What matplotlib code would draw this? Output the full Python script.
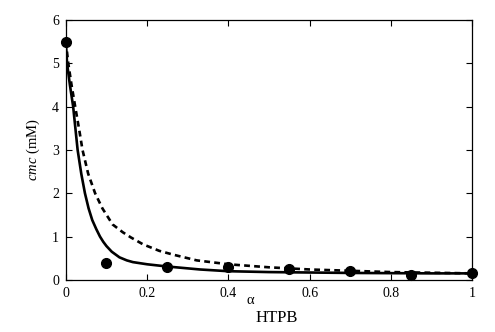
import numpy as np
import matplotlib
matplotlib.use("Agg")
import matplotlib.pyplot as plt

plt.rcParams["font.family"] = ["Liberation Serif", "DejaVu Serif"]
plt.rcParams["mathtext.fontset"] = "custom"
plt.rcParams["mathtext.rm"] = "Liberation Serif"
plt.rcParams["mathtext.it"] = "Liberation Serif:italic"

# experimental cmc values
alpha_exp = [0.0, 0.10, 0.25, 0.40, 0.55, 0.70, 0.85, 1.0]
cmc_exp = [5.5, 0.40, 0.29, 0.29, 0.25, 0.21, 0.12, 0.15]

# solid curve
alpha_solid = [0.0, 0.003, 0.010, 0.018, 0.029, 0.038, 0.047, 0.056, 0.065,
               0.075, 0.084, 0.092, 0.10, 0.113, 0.132, 0.15, 0.165, 0.20,
               0.248, 0.33, 0.40, 0.50, 0.60, 0.70, 0.80, 0.90, 1.0]
cmc_solid = [5.5, 5.0, 4.5, 4.0, 3.0, 2.45, 2.0, 1.65, 1.38,
             1.17, 1.0, 0.88, 0.78, 0.65, 0.52, 0.45, 0.41, 0.36,
             0.31, 0.24, 0.20, 0.18, 0.17, 0.16, 0.155, 0.15, 0.15]

# dashed curve
alpha_dash = [0.0, 0.006, 0.014, 0.023, 0.033, 0.041, 0.055, 0.072, 0.09,
              0.115, 0.14, 0.16, 0.19, 0.23, 0.265, 0.322, 0.40, 0.50,
              0.60, 0.70, 0.80, 0.90, 1.0]
cmc_dash = [5.5, 5.0, 4.5, 4.0, 3.46, 3.0, 2.45, 2.0, 1.65,
            1.28, 1.1, 0.98, 0.82, 0.67, 0.58, 0.45, 0.36, 0.29,
            0.24, 0.21, 0.18, 0.165, 0.15]

fig = plt.figure(figsize=(4.95, 3.32), dpi=100)
ax = fig.add_axes([0.133, 0.157, 0.821, 0.783])

ax.plot(alpha_solid, cmc_solid, "-", color="black", lw=1.9)
ax.plot(alpha_dash, cmc_dash, "--", color="black", lw=1.9, dashes=(2.2, 1.6))
ax.plot(alpha_exp, cmc_exp, "o", color="black", ms=7, clip_on=False, zorder=5)

ax.set_xlim(0, 1)
ax.set_ylim(0, 6)
ax.set_xticks([0, 0.2, 0.4, 0.6, 0.8, 1.0])
ax.set_xticklabels(["0", "0.2", "0.4", "0.6", "0.8", "1"])
ax.set_yticks(range(7))
ax.tick_params(direction="in", length=4, width=0.8, top=True, right=True,
               labelsize=10, pad=5)
for sp in ax.spines.values():
    sp.set_linewidth(0.9)

fig.text(0.068, 0.55, "$\\it{cmc}$ (mM)", rotation=90, ha="center", va="center",
         fontsize=10.5)
fig.text(0.505, 0.095, "α", ha="center", va="center", fontsize=10.5)
fig.text(0.517, 0.042, "HTPB", ha="left", va="center", fontsize=12)

fig.savefig("out.png", dpi=100)
